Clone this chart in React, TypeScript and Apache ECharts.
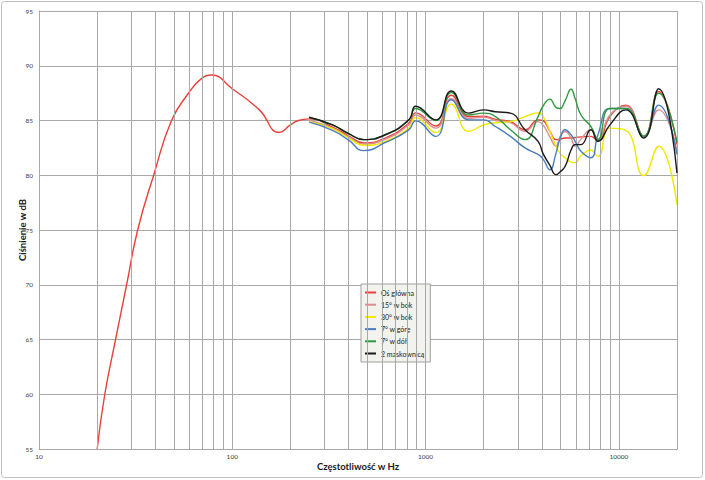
import React, { useEffect, useRef } from "react";
import * as echarts from "echarts";

const seriesNames = ["Oś główna", "15° w bok", "30° w bok", "7° w górę", "7° w dół", "2 maskownicą"];
const seriesColors = ["#e8403a", "#d9908e", "#f2e800", "#4a7ebb", "#2e9a3e", "#1a1a1a"];

// Low-frequency part of the main-axis curve (Hz, dB)
const lowFreq = [20, 21.9, 24.9, 28.4, 32.4, 39.2, 48.5, 60, 69, 78, 100, 138, 175, 200, 220];
const lowMain = [55, 60, 65, 70, 75, 80, 85, 87.6, 88.8, 89.15, 87.9, 85.97, 83.9, 84.6, 85.0];

// Common frequencies for all measurements (Hz)
const freq = [250, 330, 400, 480, 620, 820, 890, 1130, 1360, 1670, 2000, 2300, 2750, 3270, 3820, 4050, 4400, 4730, 4960, 5270, 5660, 5940, 6370, 7170, 7800, 8990, 10870, 13460, 16070, 20000];

const osGlowna = [85.15, 84.4, 83.6, 82.95, 83.4, 84.76, 85.7, 84.5, 87.3, 85.36, 85.4, 85.1, 84.9, 84.15, 85.06, 85.0, 84.0, 83.25, 83.3, 83.4, 83.4, 83.45, 83.5, 83.55, 83.1, 85.36, 86.4, 83.55, 87.65, 82.8];
const bok15 = [85.05, 84.3, 83.5, 82.85, 83.3, 84.6, 85.5, 84.3, 87.0, 85.2, 85.3, 85.0, 84.8, 84.0, 84.9, 84.6, 83.5, 82.65, 83.5, 84.0, 83.4, 82.65, 83.3, 84.15, 83.3, 85.5, 86.3, 83.6, 85.97, 82.2];
const bok30 = [84.9, 84.25, 83.4, 82.73, 83.1, 84.3, 85.27, 83.9, 86.5, 84.0, 84.6, 84.8, 84.9, 85.36, 85.7, 85.4, 84.0, 82.65, 82.0, 81.6, 81.2, 81.15, 81.8, 82.3, 81.7, 84.3, 84.1, 79.97, 82.65, 77.3];
const gora7 = [84.85, 84.1, 83.2, 82.25, 83.0, 84.15, 84.97, 83.55, 86.9, 85.06, 85.06, 84.45, 83.55, 82.5, 81.9, 81.5, 80.5, 82.0, 83.3, 84.15, 83.7, 83.1, 82.2, 81.6, 83.7, 86.1, 86.1, 83.55, 86.4, 81.9];
const dol7 = [85.27, 84.6, 83.8, 83.25, 83.7, 85.06, 86.1, 85.0, 87.55, 85.5, 85.67, 85.36, 84.15, 83.25, 85.36, 86.3, 86.95, 86.2, 86.1, 86.8, 87.85, 87.0, 85.5, 84.45, 83.25, 86.1, 86.1, 83.55, 87.5, 83.0];
const maskownica = [85.3, 84.6, 83.8, 83.25, 83.7, 85.06, 86.3, 85.06, 87.7, 85.67, 85.97, 85.8, 85.67, 84.15, 83.1, 82.0, 80.9, 80.06, 80.3, 80.8, 82.3, 82.8, 82.8, 84.15, 83.1, 84.6, 85.97, 83.4, 87.9, 80.2];

const gridFreqs = [
  10, 20, 30, 40, 50, 60, 70, 80, 90,
  100, 200, 300, 400, 500, 600, 700, 800, 900,
  1000, 2000, 3000, 4000, 5000, 6000, 7000, 8000, 9000,
  10000, 20000,
];

const yTitle = "Ciśnienie w dB";
const xTitle = "Częstotliwość w Hz";

function pairs(xs: number[], ys: number[]) {
  return xs.map((x, i) => [x, ys[i]]);
}

export default function App() {
  const ref = useRef<HTMLDivElement>(null);
  useEffect(() => {
    if (!ref.current) return;
    const chart = echarts.init(ref.current, null, { renderer: "svg" });
    const font = "Lato, 'Liberation Sans', sans-serif";
    const allValues = [osGlowna, bok15, bok30, gora7, dol7, maskownica];
    const series: any[] = [
      {
        name: "_grid",
        type: "line",
        data: [[10, 55], [20000, 95]],
        lineStyle: { opacity: 0 },
        showSymbol: false,
        silent: true,
        z: 1,
        markLine: {
          silent: true,
          symbol: "none",
          label: { show: false },
          lineStyle: { color: "#a8a8a8", width: 1, type: "solid" },
          data: gridFreqs.map((f) => ({ xAxis: f })),
        },
      },
    ];
    allValues.forEach((vals, i) => {
      const data = i === 0 ? pairs(lowFreq, lowMain).concat(pairs(freq, vals)) : pairs(freq, vals);
      series.push({
        name: seriesNames[i],
        type: "line",
        data,
        smooth: 0.5,
        showSymbol: false,
        z: 2 + i,
        lineStyle: { color: seriesColors[i], width: 1.4 },
        itemStyle: { color: seriesColors[i] },
      });
    });
    chart.setOption({
      animation: false,
      backgroundColor: "#ffffff",
      grid: { left: 39, right: 28, top: 11, bottom: 31 },
      xAxis: {
        type: "log",
        logBase: 10,
        min: 10,
        max: 20000,
        axisLine: { show: true, lineStyle: { color: "#a8a8a8" } },
        axisTick: { show: false },
        splitLine: { show: false },
        axisLabel: {
          showMaxLabel: false,
          color: "#404040",
          fontSize: 6.5,
          fontFamily: font,
          margin: 4,
          formatter: (v: number) => String(Math.round(v)),
        },
      },
      yAxis: {
        type: "value",
        min: 55,
        max: 95,
        interval: 5,
        axisLine: { show: true, lineStyle: { color: "#a8a8a8" } },
        axisTick: { show: false },
        splitLine: { show: true, lineStyle: { color: "#a8a8a8", width: 1 } },
        axisLabel: { color: "#404040", fontSize: 6.5, fontFamily: font, margin: 6 },
      },
      legend: {
        data: seriesNames,
        orient: "vertical",
        left: 361,
        top: 284,
        padding: [4, 6, 4, 4],
        itemGap: 3.2,
        itemWidth: 11,
        itemHeight: 2,
        itemTextGap: 3,
        icon: "rect",
        backgroundColor: "#f2f2ee",
        borderColor: "#a0a0a0",
        borderWidth: 1,
        textStyle: { fontSize: 7, lineHeight: 9, color: "#1a1a1a", fontFamily: font },
      },
      graphic: [
        {
          type: "rect",
          shape: { x: 1.5, y: 1.5, width: 701, height: 476, r: 3 },
          style: { fill: "none", stroke: "#c0c0c0", lineWidth: 1 },
          silent: true,
        },
        {
          type: "text",
          x: 22,
          y: 230,
          rotation: Math.PI / 2,
          style: {
            text: yTitle,
            fontSize: 9.5,
            fontWeight: "bold",
            fontFamily: font,
            fill: "#1a1a1a",
            align: "center",
            verticalAlign: "middle",
          },
        },
        {
          type: "text",
          x: 358,
          y: 466,
          style: {
            text: xTitle,
            fontSize: 9.5,
            fontWeight: "bold",
            fontFamily: font,
            fill: "#1a1a1a",
            align: "center",
            verticalAlign: "middle",
          },
        },
      ],
      series,
    });
    return () => chart.dispose();
  }, []);
  return <div ref={ref} style={{ position: "fixed", left: 0, top: 0, width: 705, height: 480 }} />;
}
